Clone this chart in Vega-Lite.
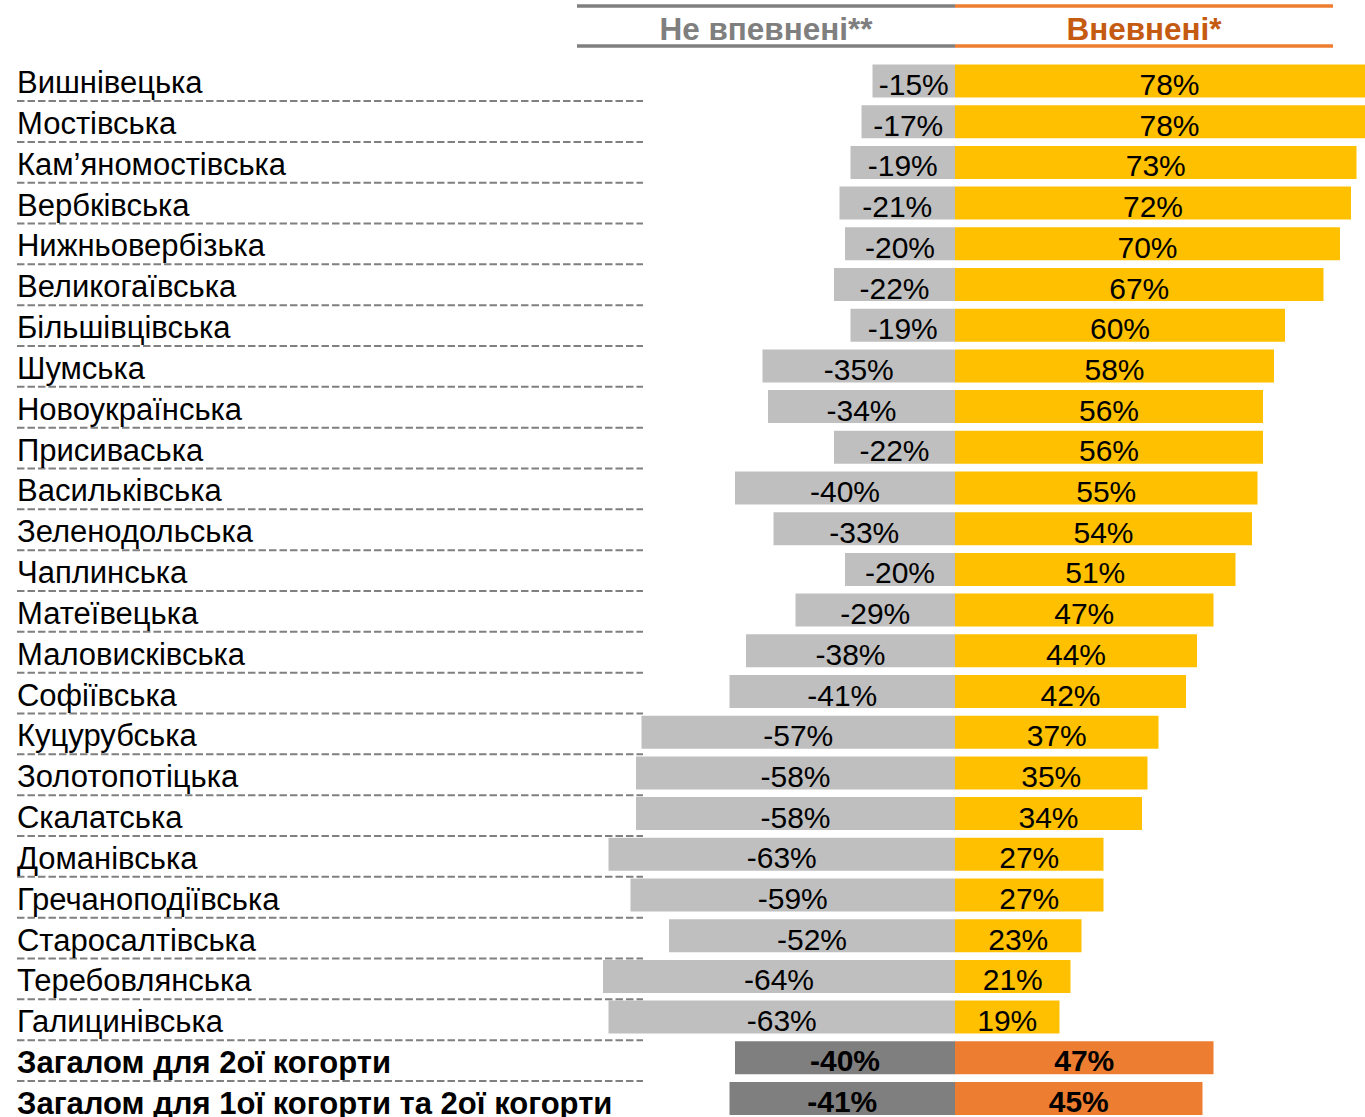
{
  "$schema": "https://vega.github.io/schema/vega-lite/v6.json",
  "width": 1365,
  "height": 1117,
  "autosize": "none",
  "padding": 0,
  "background": "white",
  "config": {
    "view": {"stroke": null},
    "text": {"font": "Liberation Sans"},
    "locale": {"number": {"decimal": ".", "thousands": ",", "grouping": [3], "currency": ["", ""], "minus": "-"}}
  },
  "datasets": {
    "rows": [
      {"name": "Вишнівецька", "neg": -0.15, "pos": 0.78, "total": false},
      {"name": "Мостівська", "neg": -0.17, "pos": 0.78, "total": false},
      {"name": "Кам’яномостівська", "neg": -0.19, "pos": 0.73, "total": false},
      {"name": "Вербківська", "neg": -0.21, "pos": 0.72, "total": false},
      {"name": "Нижньовербізька", "neg": -0.20, "pos": 0.70, "total": false},
      {"name": "Великогаївська", "neg": -0.22, "pos": 0.67, "total": false},
      {"name": "Більшівцівська", "neg": -0.19, "pos": 0.60, "total": false},
      {"name": "Шумська", "neg": -0.35, "pos": 0.58, "total": false},
      {"name": "Новоукраїнська", "neg": -0.34, "pos": 0.56, "total": false},
      {"name": "Присиваська", "neg": -0.22, "pos": 0.56, "total": false},
      {"name": "Васильківська", "neg": -0.40, "pos": 0.55, "total": false},
      {"name": "Зеленодольська", "neg": -0.33, "pos": 0.54, "total": false},
      {"name": "Чаплинська", "neg": -0.20, "pos": 0.51, "total": false},
      {"name": "Матеївецька", "neg": -0.29, "pos": 0.47, "total": false},
      {"name": "Маловисківська", "neg": -0.38, "pos": 0.44, "total": false},
      {"name": "Софіївська", "neg": -0.41, "pos": 0.42, "total": false},
      {"name": "Куцурубська", "neg": -0.57, "pos": 0.37, "total": false},
      {"name": "Золотопотіцька", "neg": -0.58, "pos": 0.35, "total": false},
      {"name": "Скалатська", "neg": -0.58, "pos": 0.34, "total": false},
      {"name": "Доманівська", "neg": -0.63, "pos": 0.27, "total": false},
      {"name": "Гречаноподіївська", "neg": -0.59, "pos": 0.27, "total": false},
      {"name": "Старосалтівська", "neg": -0.52, "pos": 0.23, "total": false},
      {"name": "Теребовлянська", "neg": -0.64, "pos": 0.21, "total": false},
      {"name": "Галицинівська", "neg": -0.63, "pos": 0.19, "total": false},
      {"name": "Загалом для 2ої когорти", "neg": -0.40, "pos": 0.47, "total": true},
      {"name": "Загалом для 1ої когорти та 2ої когорти", "neg": -0.41, "pos": 0.45, "total": true}
    ],
    "header": [{"name": "hdr"}]
  },
  "data": {"name": "rows"},
  "layer": [
    {
      "encoding": {
        "y": {
          "field": "name", "type": "nominal", "axis": null,
          "scale": {
            "domain": ["Вишнівецька","Мостівська","Кам’яномостівська","Вербківська","Нижньовербізька","Великогаївська","Більшівцівська","Шумська","Новоукраїнська","Присиваська","Васильківська","Зеленодольська","Чаплинська","Матеївецька","Маловисківська","Софіївська","Куцурубська","Золотопотіцька","Скалатська","Доманівська","Гречаноподіївська","Старосалтівська","Теребовлянська","Галицинівська","Загалом для 2ої когорти","Загалом для 1ої когорти та 2ої когорти"],
            "range": [60.65, 1118.85],
            "paddingInner": 0.189,
            "paddingOuter": 0.0945
          }
        }
      },
      "layer": [
        {
          "mark": {"type": "bar", "clip": true},
          "encoding": {
            "x": {"field": "neg", "type": "quantitative", "axis": null, "scale": {"domain": [-1.736364, 0.745455], "nice": false, "zero": false}},
            "x2": {"datum": 0},
            "color": {"condition": {"test": "datum.total", "value": "#7F7F7F"}, "value": "#BFBFBF"}
          }
        },
        {
          "mark": {"type": "bar", "clip": true},
          "encoding": {
            "x": {"field": "pos", "type": "quantitative", "axis": null, "scale": {"domain": [-1.736364, 0.745455], "nice": false, "zero": false}},
            "x2": {"datum": 0},
            "color": {"condition": {"test": "datum.total", "value": "#ED7D31"}, "value": "#FFC000"}
          }
        }
      ]
    },
    {
      "encoding": {
        "y": {
          "field": "name", "type": "nominal", "axis": null,
          "scale": {
            "domain": ["Вишнівецька","Мостівська","Кам’яномостівська","Вербківська","Нижньовербізька","Великогаївська","Більшівцівська","Шумська","Новоукраїнська","Присиваська","Васильківська","Зеленодольська","Чаплинська","Матеївецька","Маловисківська","Софіївська","Куцурубська","Золотопотіцька","Скалатська","Доманівська","Гречаноподіївська","Старосалтівська","Теребовлянська","Галицинівська","Загалом для 2ої когорти","Загалом для 1ої когорти та 2ої когорти"],
            "range": [60.65, 1118.85],
            "paddingInner": 0.189,
            "paddingOuter": 0.0945
          }
        }
      },
      "layer": [
        {
          "transform": [{"filter": "!datum.total"}],
          "mark": {"type": "text", "fontSize": 30, "align": "center", "baseline": "alphabetic", "dy": 14, "color": "#000000"},
          "encoding": {
            "x": {"field": "neg", "type": "quantitative", "axis": null, "scale": {"domain": [-3.472728, 1.49091], "nice": false, "zero": false}},
            "text": {"field": "neg", "type": "quantitative", "format": ".0%"}
          }
        },
        {
          "transform": [{"filter": "datum.total"}],
          "mark": {"type": "text", "fontSize": 30, "fontWeight": "bold", "align": "center", "baseline": "alphabetic", "dy": 13, "color": "#000000"},
          "encoding": {
            "x": {"field": "neg", "type": "quantitative", "axis": null, "scale": {"domain": [-3.472728, 1.49091], "nice": false, "zero": false}},
            "text": {"field": "neg", "type": "quantitative", "format": ".0%"}
          }
        },
        {
          "transform": [{"filter": "!datum.total"}],
          "mark": {"type": "text", "fontSize": 30, "align": "center", "baseline": "alphabetic", "dy": 14, "color": "#000000"},
          "encoding": {
            "x": {"field": "pos", "type": "quantitative", "axis": null, "scale": {"domain": [-3.472728, 1.49091], "nice": false, "zero": false}},
            "text": {"field": "pos", "type": "quantitative", "format": ".0%"}
          }
        },
        {
          "transform": [{"filter": "datum.total"}],
          "mark": {"type": "text", "fontSize": 30, "fontWeight": "bold", "align": "center", "baseline": "alphabetic", "dy": 13, "color": "#000000"},
          "encoding": {
            "x": {"field": "pos", "type": "quantitative", "axis": null, "scale": {"domain": [-3.472728, 1.49091], "nice": false, "zero": false}},
            "text": {"field": "pos", "type": "quantitative", "format": ".0%"}
          }
        }
      ]
    },
    {
      "encoding": {
        "y": {
          "field": "name", "type": "nominal", "axis": null,
          "scale": {
            "domain": ["hdr","Вишнівецька","Мостівська","Кам’яномостівська","Вербківська","Нижньовербізька","Великогаївська","Більшівцівська","Шумська","Новоукраїнська","Присиваська","Васильківська","Зеленодольська","Чаплинська","Матеївецька","Маловисківська","Софіївська","Куцурубська","Золотопотіцька","Скалатська","Доманівська","Гречаноподіївська","Старосалтівська","Теребовлянська","Галицинівська","Загалом для 2ої когорти","Загалом для 1ої когорти та 2ої когорти"],
            "range": [19.4, 1121.81],
            "paddingInner": 0,
            "paddingOuter": 0
          }
        }
      },
      "layer": [
        {
          "mark": {"type": "rule", "color": "#808080", "strokeWidth": 2, "strokeDash": [7.5, 3], "yOffset": 20.4},
          "encoding": {
            "x": {"datum": -1.7055, "type": "quantitative", "axis": null, "scale": {"domain": [-1.736364, 0.745455], "nice": false, "zero": false}},
            "x2": {"datum": -0.5673}
          }
        },
        {
          "transform": [{"filter": "!datum.total"}],
          "mark": {"type": "text", "fontSize": 31, "align": "left", "baseline": "alphabetic", "dy": 12.5, "color": "#000000"},
          "encoding": {
            "x": {"datum": -1.7055, "type": "quantitative", "axis": null, "scale": {"domain": [-1.736364, 0.745455], "nice": false, "zero": false}},
            "text": {"field": "name", "type": "nominal"}
          }
        },
        {
          "transform": [{"filter": "datum.total"}],
          "mark": {"type": "text", "fontSize": 31, "fontWeight": "bold", "align": "left", "baseline": "alphabetic", "dy": 12.5, "color": "#000000"},
          "encoding": {
            "x": {"datum": -1.7055, "type": "quantitative", "axis": null, "scale": {"domain": [-1.736364, 0.745455], "nice": false, "zero": false}},
            "text": {"field": "name", "type": "nominal"}
          }
        },
        {
          "data": {"name": "header"},
          "mark": {"type": "rule", "color": "#7F7F7F", "strokeWidth": 3.5, "yOffset": -33.8},
          "encoding": {
            "x": {"datum": -0.68727, "type": "quantitative", "axis": null, "scale": {"domain": [-1.736364, 0.745455], "nice": false, "zero": false}},
            "x2": {"datum": 0}
          }
        },
        {
          "data": {"name": "header"},
          "mark": {"type": "rule", "color": "#7F7F7F", "strokeWidth": 3.5, "yOffset": 6.2},
          "encoding": {
            "x": {"datum": -0.68727, "type": "quantitative", "axis": null, "scale": {"domain": [-1.736364, 0.745455], "nice": false, "zero": false}},
            "x2": {"datum": 0}
          }
        },
        {
          "data": {"name": "header"},
          "mark": {"type": "rule", "color": "#ED7D31", "strokeWidth": 3.5, "yOffset": -33.8},
          "encoding": {
            "x": {"datum": 0, "type": "quantitative", "axis": null, "scale": {"domain": [-1.736364, 0.745455], "nice": false, "zero": false}},
            "x2": {"datum": 0.68727}
          }
        },
        {
          "data": {"name": "header"},
          "mark": {"type": "rule", "color": "#ED7D31", "strokeWidth": 3.5, "yOffset": 6.2},
          "encoding": {
            "x": {"datum": 0, "type": "quantitative", "axis": null, "scale": {"domain": [-1.736364, 0.745455], "nice": false, "zero": false}},
            "x2": {"datum": 0.68727}
          }
        },
        {
          "data": {"name": "header"},
          "mark": {"type": "text", "fontSize": 31.5, "fontWeight": "bold", "align": "center", "baseline": "alphabetic", "dy": 0.5, "color": "#7F7F7F", "text": "Не впевнені**"},
          "encoding": {
            "x": {"datum": -0.34364, "type": "quantitative", "axis": null, "scale": {"domain": [-1.736364, 0.745455], "nice": false, "zero": false}}
          }
        },
        {
          "data": {"name": "header"},
          "mark": {"type": "text", "fontSize": 31.5, "fontWeight": "bold", "align": "center", "baseline": "alphabetic", "dy": 0.5, "color": "#C55A11", "text": "Вневнені*"},
          "encoding": {
            "x": {"datum": 0.34364, "type": "quantitative", "axis": null, "scale": {"domain": [-1.736364, 0.745455], "nice": false, "zero": false}}
          }
        }
      ]
    }
  ],
  "resolve": {"scale": {"x": "independent", "y": "independent"}}
}
